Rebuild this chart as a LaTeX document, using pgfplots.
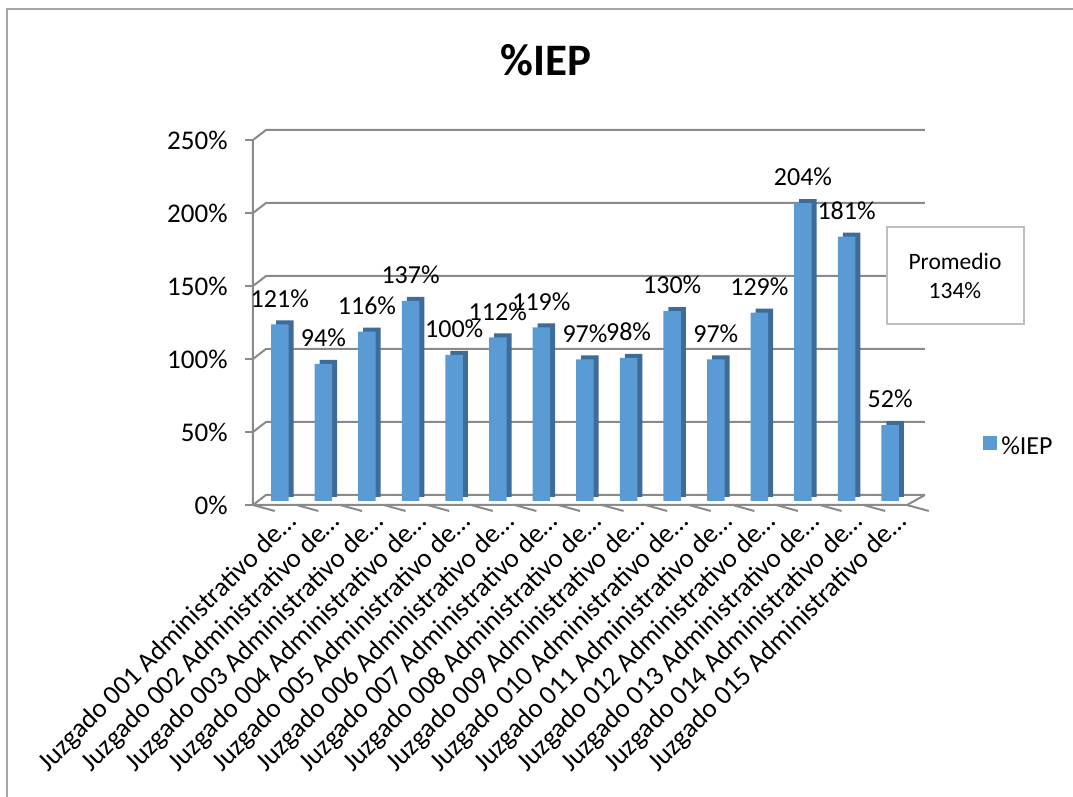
\documentclass[border=0pt]{standalone}
\usepackage{pgfplots}
\usepackage{pgfplotstable}
\pgfplotsset{compat=1.18}
\usepackage{fontspec}
\setmainfont{Carlito}
\definecolor{barfront}{HTML}{5B9BD5}
\definecolor{barside}{HTML}{3E6C98}
\definecolor{gridc}{HTML}{8A8A8A}
\definecolor{framec}{HTML}{A6A6A6}
\definecolor{boxc}{HTML}{BFBFBF}
\pgfplotstableread{
x v
0 121
1 94
2 116
3 137
4 100
5 112
6 119
7 97
8 98
9 130
10 97
11 129
12 204
13 181
14 52
}\iep
\begin{document}
\begin{tikzpicture}
\path[use as bounding box] (0,0) rectangle (536.5pt,398.5pt);
\draw[framec, line width=1pt] (3.5pt,0) -- (3.5pt,394pt) -- (536.5pt,394pt);
\node[font=\fontsize{22.5}{27}\selectfont\bfseries, anchor=base, inner sep=0pt] at (273pt,360.5pt) {\%IEP};
\begin{axis}[
  at={(126.5pt,146pt)}, anchor=south west,
  scale only axis, width=327pt, height=182.5pt,
  xmin=-0.5, xmax=14.5, ymin=0, ymax=250,
  clip=false,
  axis line style={draw=none},
  major tick length=0pt,
  /pgf/number format/assume math mode=true,
  ytick={0,50,100,150,200,250},
  yticklabels={0\%,50\%,100\%,150\%,200\%,250\%},
  yticklabel style={font=\fontsize{13.5}{16}\selectfont, anchor=east, inner sep=0pt, xshift=-12.5pt},
  xtick={0,1,2,3,4,5,6,7,8,9,10,11,12,13,14},
  xticklabels={Juzgado 001 Administrativo de…,Juzgado 002 Administrativo de…,Juzgado 003 Administrativo de…,Juzgado 004 Administrativo de…,Juzgado 005 Administrativo de…,Juzgado 006 Administrativo de…,Juzgado 007 Administrativo de…,Juzgado 008 Administrativo de…,Juzgado 009 Administrativo de…,Juzgado 010 Administrativo de…,Juzgado 011 Administrativo de…,Juzgado 012 Administrativo de…,Juzgado 013 Administrativo de…,Juzgado 014 Administrativo de…,Juzgado 015 Administrativo de…},
  xticklabel style={font=\fontsize{13.5}{16}\selectfont, rotate=45, anchor=north east, inner sep=0pt, xshift=1.8pt, yshift=-4.7pt},
  legend style={at={(1.116,0.159)}, anchor=west, draw=none, fill=none, font=\fontsize{13}{16}\selectfont, inner sep=0pt},
  legend image code/.code={\fill[barfront] (0pt,-3.5pt) rectangle (7pt,3.5pt);},
]
\pgfplotsinvokeforeach{0,50,100,150,200,250}{
  \draw[gridc, line width=1pt] (axis cs:-0.5,#1) -- ++(6.5pt,5pt) -- ([xshift=9pt,yshift=5pt]axis cs:14.5,#1);
  \draw[gridc, line width=1pt] (axis cs:-0.5,#1) -- ++(-4pt,0pt);
}
\draw[gridc, line width=1pt] (axis cs:-0.5,250) -- (axis cs:-0.5,0) -- (axis cs:14.5,0) -- ++(9pt,5pt);
\pgfplotsinvokeforeach{-0.5,0.5,1.5,2.5,3.5,4.5,5.5,6.5,7.5,8.5,9.5,10.5,11.5,12.5,13.5,14.5}{
  \draw[gridc, line width=1pt] (axis cs:#1,0) -- ++(0,-3pt);
}
\addplot[ybar, bar width=8.75pt, fill=barside, draw=none, xshift=5pt, yshift=4pt, forget plot] table[x=x,y=v]{\iep};
\addplot[ybar, bar width=8.75pt, fill=barfront, draw=none, xshift=2.5pt, yshift=2pt,
  nodes near coords={\pgfmathprintnumber{\pgfplotspointmeta}\%},
  nodes near coords style={font=\fontsize{13}{16}\selectfont, anchor=center, yshift=13pt, inner sep=0pt, text=black}] table[x=x,y=v]{\iep};
\legend{\%IEP}
\end{axis}
\draw[boxc, line width=0.75pt, fill=white] (443.5pt,285pt) rectangle (512pt,236.5pt);
\node[align=center, font=\fontsize{11.75}{14.5}\selectfont, inner sep=0pt] at (477.5pt,260.75pt) {Promedio\\134\%};
\end{tikzpicture}
\end{document}
